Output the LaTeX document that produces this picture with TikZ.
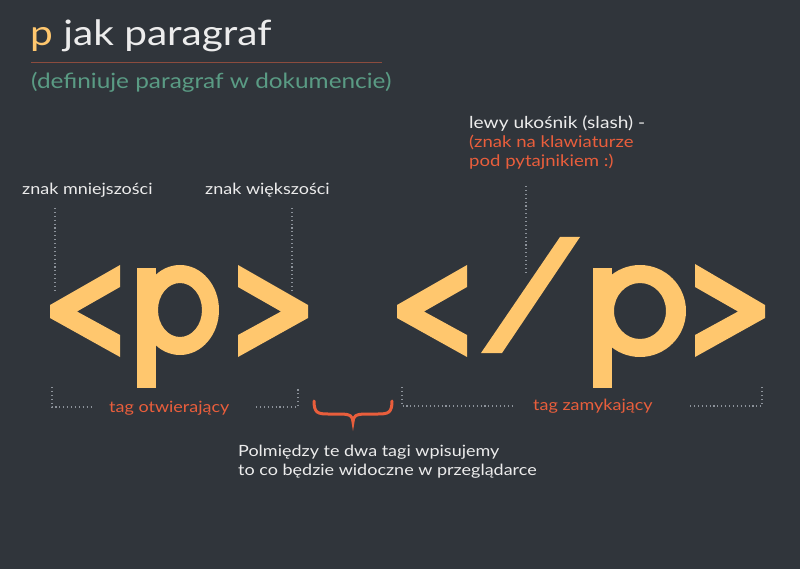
\documentclass[tikz,border=0pt]{standalone}
\usepackage{fontspec}
\setmainfont[FakeStretch=1.16]{Lato}
\definecolor{bg}{RGB}{48,53,59}
\definecolor{glyph}{RGB}{255,199,110}
\definecolor{accent}{RGB}{233,94,60}
\definecolor{subtle}{RGB}{90,155,132}
\definecolor{rule}{RGB}{140,76,62}
\definecolor{dots}{RGB}{140,146,154}
\definecolor{ink}{RGB}{236,236,236}
\begin{document}
\begin{tikzpicture}[x=1pt,y=-1pt,
  txt/.style={anchor=base west,inner sep=0pt,text=ink},
  note/.style={txt,font=\fontsize{15.5}{19}\selectfont},
  hint/.style={txt,text=accent,font=\fontsize{15.5}{19}\selectfont},
  dotline/.style={draw=dots,line width=1.3pt,dash pattern=on 1.1pt off 2.8pt},
  glyphfill/.style={fill=glyph,draw=none}]
% background
\fill[bg] (0,0) rectangle (800,569);
\useasboundingbox (0,0) rectangle (800,569);

% heading
\node[txt,font=\fontsize{35}{40}\selectfont] (title) at (30,46)
  {\textcolor{glyph}{p} jak paragraf};
\coordinate (ruleL) at (31,63);
\coordinate (ruleR) at (382,63);
\draw[rule,line width=1pt] (ruleL) -- (ruleR);
\node[txt,text=subtle,font=\fontsize{21}{25}\selectfont] (subtitle) at (31,89)
  {(definiuje paragraf w dokumencie)};

% labels above the tags
\node[note] (lt) at (22,195) {znak mniejszości};
\node[note] (gt) at (205,195) {znak większości};
\node[note,font=\fontsize{16.5}{19}\selectfont] (slashlbl) at (469,129) {lewy ukośnik (slash) -};
\node[hint,font=\fontsize{16}{19}\selectfont] (slashhint1) at (469,148) {(znak na klawiaturze};
\node[hint,font=\fontsize{16}{19}\selectfont] (slashhint2) at (469,167) {pod pytajnikiem :)};

% dotted pointers
\coordinate (ltA) at (55,208);  \coordinate (ltB) at (55,292);
\coordinate (gtA) at (292,208); \coordinate (gtB) at (292,292);
\coordinate (slA) at (526,186); \coordinate (slB) at (526,272);
\draw[dotline] (ltA) -- (ltB);
\draw[dotline] (gtA) -- (gtB);
\draw[dotline] (slA) -- (slB);

% opening tag <p>
\fill[glyphfill] (120,265) -- (50,305) -- (50,318) -- (120,357) -- (120,335) -- (77,311.5) -- (120,287) -- cycle;
\fill[glyphfill] (137,268) rectangle (156,388);
\fill[glyphfill,even odd rule] (180,310) ellipse [x radius=39,y radius=45]
                               (180,310) ellipse [x radius=22,y radius=27];
\fill[glyphfill] (238,265) -- (308,305) -- (308,318) -- (238,357) -- (238,335) -- (281,311.5) -- (238,287) -- cycle;

% closing tag </p>
\fill[glyphfill] (467,265) -- (397,305) -- (397,318) -- (467,357) -- (467,335) -- (424,311.5) -- (467,287) -- cycle;
\fill[glyphfill] (481,353) -- (502,353) -- (580,237) -- (560,237) -- cycle;
\fill[glyphfill] (593,268) rectangle (612,388);
\fill[glyphfill,even odd rule] (640,311) ellipse [x radius=46,y radius=46]
                               (640,311) ellipse [x radius=26,y radius=28];
\fill[glyphfill] (695,264) -- (765,305) -- (765,318) -- (695,357) -- (695,335) -- (738,311.5) -- (695,287) -- cycle;

% bracket under the opening tag
\coordinate (o1) at (52,387);  \coordinate (o2) at (52,407);  \coordinate (o3) at (94,407);
\coordinate (o4) at (256,407); \coordinate (o5) at (298,407); \coordinate (o6) at (298,387);
\draw[dotline] (o1) -- (o2) -- (o3);
\draw[dotline] (o4) -- (o5) -- (o6);
\node[hint] (opentag) at (109,412) {tag otwierający};

% bracket under the closing tag
\coordinate (c1) at (402,387); \coordinate (c2) at (402,406); \coordinate (c3) at (512,406);
\coordinate (c4) at (690,406); \coordinate (c5) at (762,406); \coordinate (c6) at (762,387);
\draw[dotline] (c1) -- (c2) -- (c3);
\draw[dotline] (c4) -- (c5) -- (c6);
\node[hint] (closetag) at (533,410) {tag zamykający};

% brace between the tags
\coordinate (brL) at (314,401);
\coordinate (brM) at (353,422);
\coordinate (brR) at (392,401);
\draw[accent,line width=3pt,line cap=round]
  (brL) .. controls (314,413) and (318,414) .. (328,414) -- (340,414)
  .. controls (350,414) and (353,416) .. (brM)
  .. controls (353,416) and (356,414) .. (366,414) -- (378,414)
  .. controls (388,414) and (392,413) .. (brR);

% explanation
\node[note] (expl1) at (238,456) {Polmiędzy te dwa tagi wpisujemy};
\node[note] (expl2) at (238,475) {to co będzie widoczne w przeglądarce};
\end{tikzpicture}
\end{document}
